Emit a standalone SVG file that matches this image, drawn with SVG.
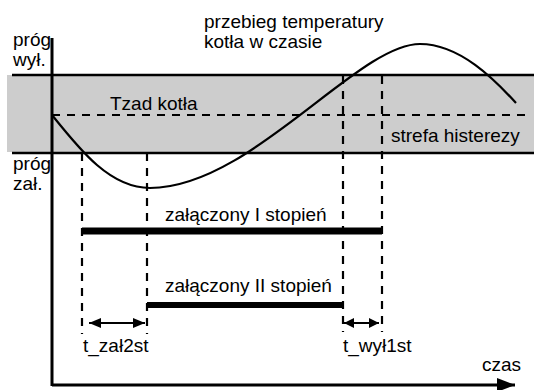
<svg xmlns="http://www.w3.org/2000/svg" width="534" height="390" viewBox="0 0 534 390">
<defs>
<style>
text{font-family:"Liberation Sans",Arial,sans-serif;font-size:19px;fill:#000}
.ln{stroke:#000;stroke-width:2.7;fill:none}
.ax{stroke:#000;stroke-width:3;fill:none}
.ds{stroke:#000;stroke-width:2.2;fill:none;stroke-dasharray:8 7}
.cv{stroke:#000;stroke-width:2.2;fill:none}
.bar{stroke:#000;fill:none}
.ar{stroke:#000;stroke-width:2;fill:none}
</style>
<marker id="ah" viewBox="0 0 12 10" refX="12" refY="5" markerWidth="12" markerHeight="10" markerUnits="userSpaceOnUse" orient="auto-start-reverse">
<path d="M0,0 L12,5 L0,10 Z" fill="#000"/>
</marker>
<marker id="ahs" viewBox="0 0 10 10" refX="10" refY="5" markerWidth="10" markerHeight="10" markerUnits="userSpaceOnUse" orient="auto-start-reverse">
<path d="M0,0 L10,5 L0,10 Z" fill="#000"/>
</marker>
<marker id="axh" viewBox="0 0 18 14" refX="18" refY="7" markerWidth="18" markerHeight="14" markerUnits="userSpaceOnUse" orient="auto">
<path d="M0,0 L18,7 L0,14 Z" fill="#000"/>
</marker>
</defs>
<g id="band">
<rect x="7" y="75" width="527" height="77" fill="#cdcdcd"/>
<line class="ln" x1="12" y1="75" x2="534" y2="75"/>
<line class="ln" x1="12" y1="153" x2="534" y2="153"/>
</g>
<g id="labels">
<text x="13" y="46">próg</text>
<text x="13" y="66">wył.</text>
<text x="13" y="170">próg</text>
<text x="13" y="190">zał.</text>
<text x="204" y="28">przebieg temperatury</text>
<text x="204" y="48">kotła w czasie</text>
<text x="110" y="110">Tzad kotła</text>
<text x="391" y="142">strefa histerezy</text>
<text x="165" y="221">załączony I stopień</text>
<text x="165" y="292">załączony II stopień</text>
<text x="83" y="352">t_zał2st</text>
<text x="343" y="352">t_wył1st</text>
<text x="482" y="371">czas</text>
</g>
<g id="connectors">
<line class="ds" x1="52" y1="115" x2="532" y2="115"/>
<line class="ds" x1="82" y1="153" x2="82" y2="334"/>
<line class="ds" x1="147" y1="153" x2="147" y2="334"/>
<line class="ds" x1="343" y1="76" x2="343" y2="332"/>
<line class="ds" x1="382" y1="76" x2="382" y2="332"/>
<path class="cv" d="M52,115 C80,150 110,188 150,188 C250,188 357,44 420,44 C460,44 495,80 516,103"/>
<line class="bar" stroke-width="7" x1="82" y1="231" x2="382" y2="231"/>
<line class="bar" stroke-width="6" x1="147" y1="305" x2="343" y2="305"/>
<line class="ar" x1="89" y1="323" x2="145" y2="323" marker-start="url(#ah)" marker-end="url(#ah)"/>
<line class="ar" x1="344" y1="323" x2="379" y2="323" marker-start="url(#ahs)" marker-end="url(#ahs)"/>
</g>
<g id="axes">
<line class="ax" x1="52" y1="38" x2="52" y2="386"/>
<line class="ax" x1="52" y1="385" x2="515" y2="385" marker-end="url(#axh)"/>
</g>
</svg>
